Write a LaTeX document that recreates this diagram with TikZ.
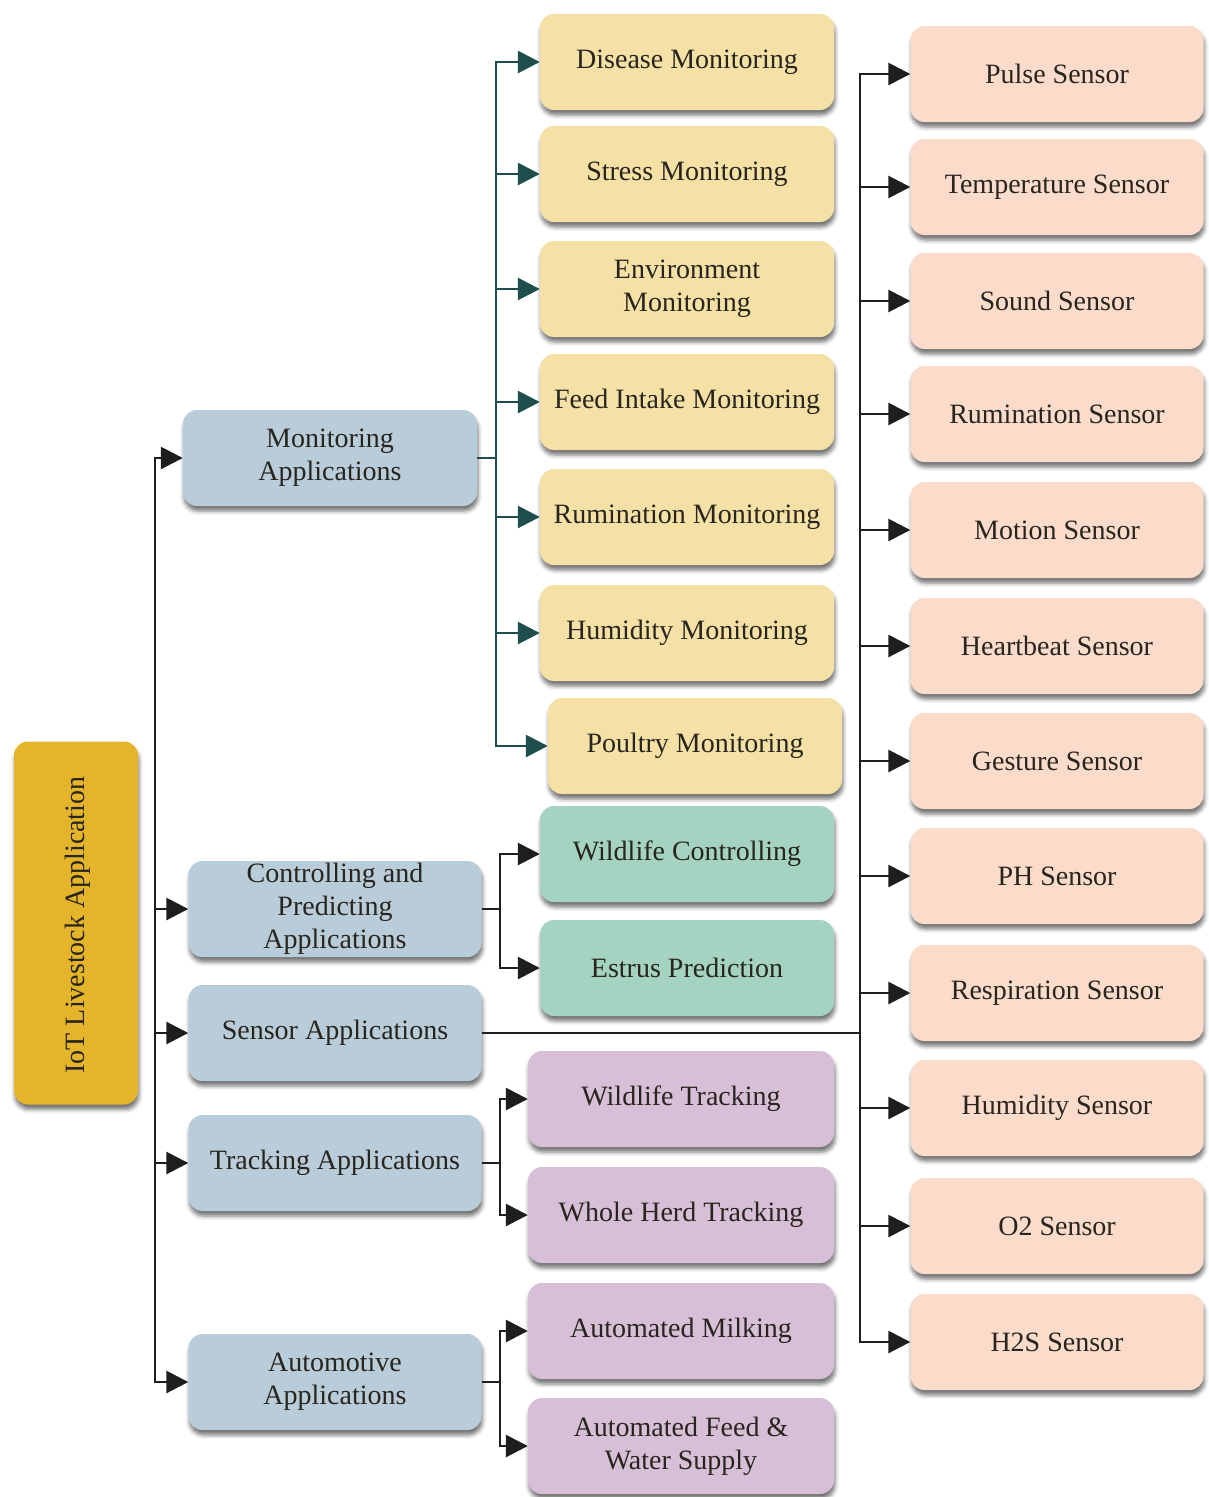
\documentclass[tikz,border=0pt]{standalone}
\usepackage{fontspec}
\setmainfont{Liberation Serif}
\usetikzlibrary{arrows.meta,shadows,shadows.blur,positioning}
\definecolor{cblue}{RGB}{185,204,217}
\definecolor{cyel}{RGB}{245,225,165}
\definecolor{cgreen}{RGB}{164,211,193}
\definecolor{cpurp}{RGB}{216,191,216}
\definecolor{cpeach}{RGB}{251,219,201}
\definecolor{croot}{RGB}{228,181,42}
\definecolor{cteal}{RGB}{30,78,78}
\definecolor{cline}{RGB}{30,30,30}
\definecolor{ctext}{RGB}{40,36,30}
\tikzset{
  box/.style={rounded corners=14pt, minimum height=96pt, align=center,
    text=ctext, font=\fontsize{28}{33}\selectfont, inner sep=2pt,
    blur shadow={shadow xshift=1pt, shadow yshift=-5pt, shadow blur radius=4pt, shadow opacity=55}},
  lvl/.style={box, fill=cblue, minimum width=293pt},
  yel/.style={box, fill=cyel, minimum width=294pt},
  grn/.style={box, fill=cgreen, minimum width=294pt},
  pur/.style={box, fill=cpurp, minimum width=306pt},
  sen/.style={box, fill=cpeach, minimum width=293pt},
  tip/.style={-{Triangle[length=22pt,width=22pt]}},
  arr/.style={line width=2.8pt, draw=cline, tip},
  tarr/.style={line width=2.8pt, draw=cteal, tip},
  ln/.style={line width=2.8pt, draw=cline},
  tln/.style={line width=2.8pt, draw=cteal},
}
\begin{document}
\begin{tikzpicture}[x=1pt,y=-1pt]
\useasboundingbox (0,0) rectangle (1208,1497);
% root
\node[box, fill=croot, minimum width=124pt, minimum height=363pt] (root) at (76,923) {};
\node[rotate=90, text=ctext, font=\fontsize{28}{33}\selectfont] (roott) at (78,925) {IoT Livestock Application};
% level 1
\node[lvl, minimum width=294pt] (mon) at (330,458) {Monitoring\\Applications};
\node[lvl] (ctl) at (335,909) {Controlling and\\Predicting\\Applications};
\node[lvl] (sens) at (335,1033) {Sensor Applications};
\node[lvl] (trk) at (335,1163) {Tracking Applications};
\node[lvl] (aut) at (335,1382) {Automotive\\Applications};
% monitoring
\node[yel] (dis) at (687,62) {Disease Monitoring};
\node[yel] (str) at (687,174) {Stress Monitoring};
\node[yel] (env) at (687,289) {Environment\\Monitoring};
\node[yel] (fee) at (687,402) {Feed Intake Monitoring};
\node[yel] (rum) at (687,517) {Rumination Monitoring};
\node[yel] (hum) at (687,633) {Humidity Monitoring};
\node[yel] (pou) at (695,746) {Poultry Monitoring};
% controlling
\node[grn] (wc) at (687,854) {Wildlife Controlling};
\node[grn] (est) at (687,968) {Estrus Prediction};
% tracking / automotive
\node[pur] (wt) at (681,1099) {Wildlife Tracking};
\node[pur] (wh) at (681,1215) {Whole Herd Tracking};
\node[pur] (am) at (681,1331) {Automated Milking};
\node[pur] (af) at (681,1446) {Automated Feed \&\\Water Supply};
% sensors
\node[sen] (s1) at (1057,74) {Pulse Sensor};
\node[sen] (s2) at (1057,187) {Temperature Sensor};
\node[sen] (s3) at (1057,301) {Sound Sensor};
\node[sen] (s4) at (1057,414) {Rumination Sensor};
\node[sen] (s5) at (1057,530) {Motion Sensor};
\node[sen] (s6) at (1057,646) {Heartbeat Sensor};
\node[sen] (s7) at (1057,761) {Gesture Sensor};
\node[sen] (s8) at (1057,876) {PH Sensor};
\node[sen] (s9) at (1057,993) {Respiration Sensor};
\node[sen] (s10) at (1057,1108) {Humidity Sensor};
\node[sen] (s11) at (1057,1226) {O2 Sensor};
\node[sen] (s12) at (1057,1342) {H2S Sensor};
% junction coordinates
\coordinate (rj) at (155,923);
\coordinate (mj) at (496,458);
\coordinate (cj) at (500,909);
\coordinate (tj) at (500,1163);
\coordinate (aj) at (500,1382);
\coordinate (sj) at (860,1033);
% root trunk
\foreach \t in {mon,ctl,sens,trk,aut} \draw[arr] (rj) |- (\t.west);
% monitoring branch
\draw[tln] (mon.east) -- (mj);
\foreach \t in {dis,str,env,fee,rum,hum,pou} \draw[tarr] (mj) |- (\t.west);
% controlling
\draw[ln] (ctl.east) -- (cj);
\foreach \t in {wc,est} \draw[arr] (cj) |- (\t.west);
% tracking
\draw[ln] (trk.east) -- (tj);
\foreach \t in {wt,wh} \draw[arr] (tj) |- (\t.west);
% automotive
\draw[ln] (aut.east) -- (aj);
\foreach \t in {am,af} \draw[arr] (aj) |- (\t.west);
% sensors
\draw[ln] (sens.east) -- (sj);
\foreach \t in {s1,s2,s3,s4,s5,s6,s7,s8,s9,s10,s11,s12} \draw[arr] (sj) |- (\t.west);
\end{tikzpicture}
\end{document}
